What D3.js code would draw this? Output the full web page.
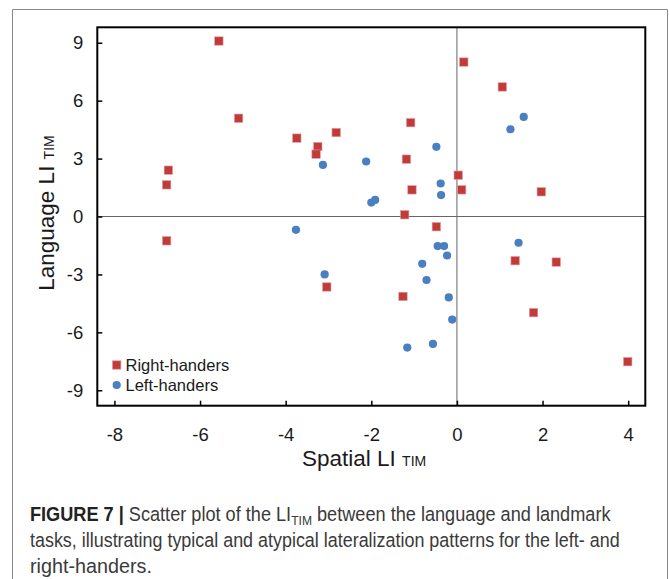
<!DOCTYPE html>
<html>
<head>
<meta charset="utf-8">
<script src="https://cdn.jsdelivr.net/npm/d3@7"></script>
<style>
  html, body { margin: 0; padding: 0; background: #fff; }
  svg { display: block; }
</style>
</head>
<body>
<div id="chart"></div>
<script>
// Right-handers [spatial LI, language LI]
const rightHanders = [
  [-5.56, 9.09], [-5.10, 5.09], [-3.74, 4.06], [-2.82, 4.35], [-3.25, 3.62],
  [-3.29, 3.23], [-6.74, 2.40], [-6.78, 1.64], [0.16, 8.00], [1.06, 6.71],
  [-1.08, 4.86], [-1.18, 2.97], [0.03, 2.14], [0.11, 1.38], [-1.05, 1.38],
  [-1.22, 0.09], [1.97, 1.28], [-6.78, -1.26], [-3.04, -3.65], [-0.48, -0.53],
  [1.36, -2.29], [2.32, -2.36], [-1.26, -4.14], [1.79, -4.98], [3.99, -7.52]
];
// Left-handers [spatial LI, language LI]
const leftHanders = [
  [-3.13, 2.67], [-2.12, 2.85], [-2.00, 0.72], [-1.91, 0.86], [1.56, 5.16],
  [1.25, 4.52], [-0.48, 3.61], [-0.38, 1.71], [-0.37, 1.11], [-3.76, -0.69],
  [-3.09, -3.00], [-0.45, -1.53], [-0.30, -1.53], [-0.23, -2.02], [-0.81, -2.45],
  [-0.71, -3.29], [-0.19, -4.19], [-0.11, -5.34], [-0.56, -6.60], [-1.16, -6.79],
  [1.44, -1.36]
];
const xTicks = [-8, -6, -4, -2, 0, 2, 4];
const yTicks = [-9, -6, -3, 0, 3, 6, 9];
const legendLabels = ["Right-handers", "Left-handers"];

const width = 670, height = 579;
const red = "#c23b3b", blue = "#4a7fc1";

const svg = d3.select("#chart").append("svg")
  .attr("width", width).attr("height", height);

// outer figure frame
svg.append("path")
  .attr("d", "M12.5,579 V9.5 H667.5 V579")
  .attr("fill", "none").attr("stroke", "#8a8a8a").attr("stroke-width", 1);

// plot area
const plot = { left: 97.3, right: 645.3, top: 27.3, bottom: 405.7 };
const x = d3.scaleLinear().domain([-8.4, 4.4]).range([plot.left, plot.right]);
const y = d3.scaleLinear().domain([-9.8, 9.8]).range([plot.bottom, plot.top]);

// zero lines
svg.append("line")
  .attr("x1", x(0)).attr("x2", x(0)).attr("y1", plot.top).attr("y2", plot.bottom)
  .attr("stroke", "#666").attr("stroke-width", 1);
svg.append("line")
  .attr("x1", plot.left).attr("x2", plot.right).attr("y1", y(0)).attr("y2", y(0))
  .attr("stroke", "#666").attr("stroke-width", 1);

// axes (inward ticks)
const xAxis = svg.append("g")
  .attr("transform", `translate(0,${plot.bottom})`)
  .call(d3.axisBottom(x).tickValues(xTicks).tickSize(-5).tickPadding(22)
    .tickFormat(d3.format("d")));
const yAxis = svg.append("g")
  .attr("transform", `translate(${plot.left},0)`)
  .call(d3.axisLeft(y).tickValues(yTicks).tickSize(-5).tickPadding(14)
    .tickFormat(d3.format("d")));

[xAxis, yAxis].forEach(a => {
  a.select(".domain").remove();
  a.selectAll(".tick line").attr("stroke", "#000").attr("stroke-width", 1.5);
  a.selectAll(".tick text")
    .attr("fill", "#1a1a1a")
    .style("font-family", "'Liberation Sans', Arial, sans-serif")
    .style("font-size", "18.5px");
});
// plain hyphen for negatives, as in the original
xAxis.selectAll(".tick text").text(d => String(d).replace("−", "-"));
yAxis.selectAll(".tick text").text(d => String(d).replace("−", "-"));

// plot frame
svg.append("rect")
  .attr("x", plot.left).attr("y", plot.top)
  .attr("width", plot.right - plot.left).attr("height", plot.bottom - plot.top)
  .attr("fill", "none").attr("stroke", "#000").attr("stroke-width", 2);

// points
const sq = 8.4;
svg.append("g").selectAll("rect")
  .data(rightHanders)
  .join("rect")
  .attr("x", d => x(d[0]) - sq / 2)
  .attr("y", d => y(d[1]) - sq / 2)
  .attr("width", sq).attr("height", sq)
  .attr("fill", red).attr("stroke", "#e49a9a").attr("stroke-width", 0.6);

svg.append("g").selectAll("circle")
  .data(leftHanders)
  .join("circle")
  .attr("cx", d => x(d[0]))
  .attr("cy", d => y(d[1]))
  .attr("r", 4.1)
  .attr("fill", blue);

// legend
const legend = svg.append("g")
  .style("font-family", "'Liberation Sans', Arial, sans-serif")
  .style("font-size", "16.5px");
legend.append("rect")
  .attr("x", 116.7 - sq / 2).attr("y", 365 - sq / 2)
  .attr("width", sq).attr("height", sq)
  .attr("fill", red).attr("stroke", "#e49a9a").attr("stroke-width", 0.6);
legend.append("circle").attr("cx", 116.7).attr("cy", 385).attr("r", 4.1).attr("fill", blue);
legend.selectAll("text")
  .data(legendLabels)
  .join("text")
  .attr("x", 125.5)
  .attr("y", (d, i) => 365 + i * 20)
  .attr("dy", "0.35em")
  .attr("fill", "#1a1a1a")
  .text(d => d);

// axis titles
const xTitle = svg.append("text")
  .attr("x", 302).attr("y", 466)
  .attr("fill", "#1a1a1a")
  .style("font-family", "'Liberation Sans', Arial, sans-serif")
  .style("font-size", "22.5px");
xTitle.append("tspan").text("Spatial LI ");
xTitle.append("tspan").style("font-size", "14px").text("TIM");

const yTitle = svg.append("text")
  .attr("transform", `translate(54,213) rotate(-90)`)
  .attr("text-anchor", "middle")
  .attr("fill", "#1a1a1a")
  .style("font-family", "'Liberation Sans', Arial, sans-serif")
  .style("font-size", "22.5px");
yTitle.append("tspan").text("Language LI ");
yTitle.append("tspan").style("font-size", "14px").text("TIM");

// caption
const capFont = "'Liberation Sans Narrow', 'Arial Narrow', 'Liberation Sans', sans-serif";
const capLines = [
  { y: 521, w: 581 },
  { y: 547, w: 590 },
  { y: 573, w: 122 }
];
function capText() {
  return svg.append("text")
    .attr("fill", "#3a3a3a")
    .style("font-family", capFont)
    .style("font-size", "19.5px");
}
const c1 = capText();
c1.append("tspan").style("font-weight", "bold").attr("fill", "#222").text("FIGURE 7 | ");
c1.append("tspan").text("Scatter plot of the LI");
c1.append("tspan").attr("dy", 4).style("font-size", "13px").text("TIM");
c1.append("tspan").attr("dy", -4).text(" between the language and landmark");
const c2 = capText().text("tasks, illustrating typical and atypical lateralization patterns for the left- and");
const c3 = capText().text("right-handers.");
[c1, c2, c3].forEach((t, i) => {
  const bw = t.node().getBBox().width;
  const sx = capLines[i].w / bw;
  t.attr("transform", `translate(30,${capLines[i].y}) scale(${sx},1)`);
});
</script>
</body>
</html>
